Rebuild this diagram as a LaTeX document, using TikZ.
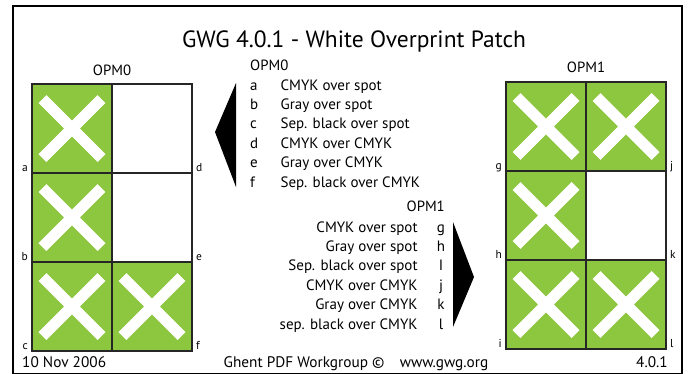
\documentclass[tikz,border=0pt]{standalone}
\usepackage{fontspec}
\setmainfont{PT Sans}
\usepackage{tikz}
\usetikzlibrary{positioning}
\definecolor{gwggreen}{RGB}{141,198,63}

\begin{document}
\begin{tikzpicture}[
    x=1pt, y=-1pt,
    patch/.style={draw=black!85, line width=1.6pt, fill=gwggreen, minimum width=80pt,
                  minimum height=89pt, inner sep=0pt, outer sep=0pt,
                  path picture={
                    \draw[white, line width=11pt]
                      ([shift={(-29.5pt,-29.5pt)}]path picture bounding box.center) --
                      ([shift={(29.5pt,29.5pt)}]path picture bounding box.center)
                      ([shift={(-29.5pt,29.5pt)}]path picture bounding box.center) --
                      ([shift={(29.5pt,-29.5pt)}]path picture bounding box.center);}},
    blank/.style={draw=black!85, line width=1.6pt, fill=white, minimum width=80pt,
                  minimum height=89pt, inner sep=0pt, outer sep=0pt},
    tag/.style={font=\fontsize{11.5}{13}\selectfont, inner sep=0pt},
    head/.style={font=\fontsize{14.8}{16}\selectfont, inner sep=0pt, text height=10pt, text depth=3.5pt},
    row/.style={font=\fontsize{15}{17}\selectfont, inner sep=0pt, text height=10pt, text depth=3pt},
    keyl/.style={row, text width=30pt, align=left},
    keyr/.style={row, minimum width=10pt, align=center},
    foot/.style={font=\fontsize{15.3}{17}\selectfont, inner sep=0pt}
]
\useasboundingbox (0,0) rectangle (690,373);
\draw[line width=2.5pt] (13,6) rectangle (682,374.5);

\node[font=\fontsize{23.5}{26}\selectfont, inner sep=0pt, anchor=base] (title) at (354,47)
  {GWG 4.0.1 - White Overprint Patch};

% OPM0 patches
\node[patch] (pa) at (72,128.5) {};
\node[patch, below=0pt of pa] (pb) {};
\node[patch, below=0pt of pb] (pc) {};
\node[blank, right=0pt of pa] (pd) {};
\node[blank, right=0pt of pb] (pe) {};
\node[patch, right=0pt of pc] (pf) {};
\node[head, above=4.5pt of pa.north east] (g0) {OPM0};
\node[tag, anchor=base east] (ta) at ([shift={(-4pt,2pt)}]pa.south west) {a};
\node[tag, anchor=base east] (tb) at ([shift={(-4pt,2pt)}]pb.south west) {b};
\node[tag, anchor=base east] (tc) at ([shift={(-4pt,2pt)}]pc.south west) {c};
\node[tag, anchor=base west] (td) at ([shift={(4pt,2pt)}]pd.south east) {d};
\node[tag, anchor=base west] (te) at ([shift={(4pt,2pt)}]pe.south east) {e};
\node[tag, anchor=base west] (tf) at ([shift={(4pt,2pt)}]pf.south east) {f};

% OPM1 patches
\node[patch] (pg) at (546,126.5) {};
\node[patch, below=0pt of pg] (ph) {};
\node[patch, below=0pt of ph] (pi) {};
\node[patch, right=0pt of pg] (pj) {};
\node[blank, right=0pt of ph] (pk) {};
\node[patch, right=0pt of pi] (pl) {};
\node[head, above=5.5pt of pg.north east] (g1) {OPM1};
\node[tag, anchor=base east] (tg) at ([shift={(-4pt,2pt)}]pg.south west) {g};
\node[tag, anchor=base east] (th) at ([shift={(-4pt,2pt)}]ph.south west) {h};
\node[tag, anchor=base east] (ti) at ([shift={(-4pt,2pt)}]pi.south west) {i};
\node[tag, anchor=base west] (tj) at ([shift={(4pt,2pt)}]pj.south east) {j};
\node[tag, anchor=base west] (tk) at ([shift={(4pt,2pt)}]pk.south east) {k};
\node[tag, anchor=base west] (tl) at ([shift={(4pt,2pt)}]pl.south east) {l};

% OPM0 legend
\node[head, anchor=base west] (h0) at (250,70) {OPM0};
\node[keyl, anchor=base west] (ka) at (250,90) {a};
\node[keyl, below=6pt of ka] (kb) {b};
\node[keyl, below=6pt of kb] (kc) {c};
\node[keyl, below=6pt of kc] (kd) {d};
\node[keyl, below=6pt of kd] (ke) {e};
\node[keyl, below=6pt of ke] (kf) {f};
\node[row, right=0pt of ka] (da) {CMYK over spot};
\node[row, right=0pt of kb] (db) {Gray over spot};
\node[row, right=0pt of kc] (dc) {Sep. black over spot};
\node[row, right=0pt of kd] (dd) {CMYK over CMYK};
\node[row, right=0pt of ke] (de) {Gray over CMYK};
\node[row, right=0pt of kf] (df) {Sep. black over CMYK};

% OPM1 legend
\node[head, anchor=base east] (h1) at (445,211) {OPM1};
\node[keyr, anchor=base] (kg) at (441,232) {g};
\node[keyr, below=6pt of kg] (kh) {h};
\node[keyr, below=6pt of kh] (ki) {I};
\node[keyr, below=6pt of ki] (kj) {j};
\node[keyr, below=6pt of kj] (kk) {k};
\node[keyr, below=6pt of kk] (kl) {l};
\node[row, left=18pt of kg] (dg) {CMYK over spot};
\node[row, left=18pt of kh] (dh) {Gray over spot};
\node[row, left=18pt of ki] (di) {Sep. black over spot};
\node[row, left=18pt of kj] (dj) {CMYK over CMYK};
\node[row, left=18pt of kk] (dk) {Gray over CMYK};
\node[row, left=18pt of kl] (dl) {sep. black over CMYK};

% pointers
\fill (236,83) -- (215,132) -- (236,187) -- cycle;
\fill (453,222) -- (474,277) -- (453,327) -- cycle;

% footer
\node[foot, anchor=base west] (date) at (22,367) {10 Nov 2006};
\node[foot, anchor=base] (credit) at (356,367) {Ghent PDF Workgroup ©\quad www.gwg.org};
\node[foot, anchor=base east] (ver) at (668,367) {4.0.1};
\end{tikzpicture}
\end{document}
